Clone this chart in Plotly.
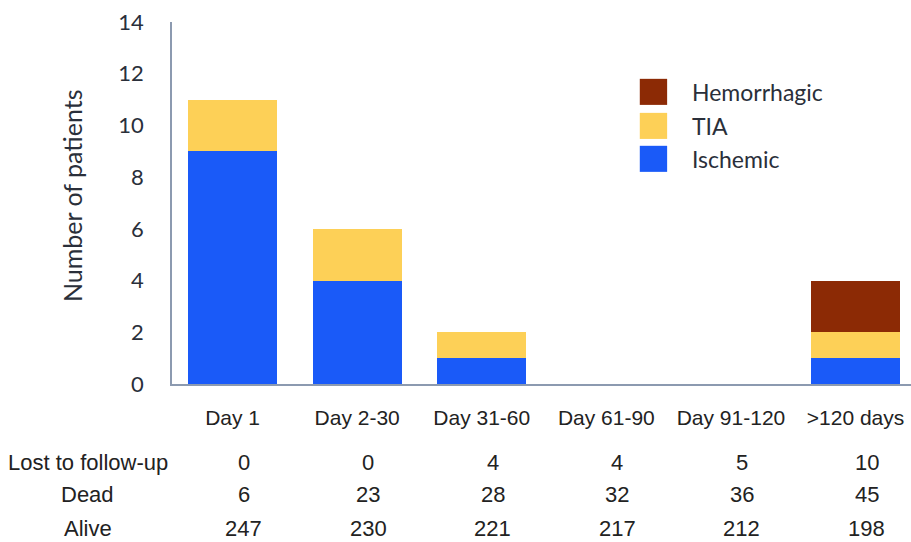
import plotly.graph_objects as go

categories = ["Day 1", "Day 2-30", "Day 31-60", "Day 61-90", "Day 91-120", ">120 days"]
ischemic = [9, 4, 1, 0, 0, 1]
tia = [2, 2, 1, 0, 0, 1]
hemorrhagic = [0, 0, 0, 0, 0, 2]

row_labels = ["Lost to follow-up", "Dead", "Alive"]
lost = [0, 0, 4, 4, 5, 10]
dead = [6, 23, 28, 32, 36, 45]
alive = [247, 230, 221, 217, 212, 198]

y_ticks = [0, 2, 4, 6, 8, 10, 12, 14]

series = [("Ischemic", ischemic, "#1a5af8"),
          ("TIA", tia, "#fdd057"),
          ("Hemorrhagic", hemorrhagic, "#8c2a05")]

LABEL_FONT = "Lato, Open Sans, sans-serif"
TABLE_FONT = "Liberation Sans, Arial, sans-serif"
TXT = "#2a2f3a"

xs = list(range(len(categories)))
fig = go.Figure()
for name, vals, col in series:
    fig.add_trace(go.Bar(x=xs, y=vals, name=name, marker=dict(color=col, line=dict(width=0)),
                         width=0.714, showlegend=False))

fig.update_layout(
    barmode="stack",
    width=911, height=542,
    margin=dict(l=172, r=0, t=22, b=158, autoexpand=False),
    plot_bgcolor="white", paper_bgcolor="white",
    xaxis=dict(range=[-0.486, 5.445], tickvals=xs, ticktext=categories, automargin=False,
               showline=True, linecolor="#8c9ab0", linewidth=1.5, showgrid=False,
               zeroline=False, ticks="", ticklabelstandoff=14,
               tickfont=dict(family=TABLE_FONT, size=21, color="#222")),
    yaxis=dict(range=[0, 14], tickvals=y_ticks, showline=True, linecolor="#8c9ab0",
               linewidth=1.5, showgrid=False, zeroline=False, ticks="", automargin=False,
               ticklabelstandoff=22,
               tickfont=dict(family=LABEL_FONT, size=22, color=TXT)),
)

# y-axis title
fig.add_annotation(text="Number of patients", xref="paper", yref="paper", x=0, y=0.519,
                   xshift=-100, xanchor="center", yanchor="middle", textangle=-90,
                   showarrow=False, font=dict(family=LABEL_FONT, size=25, color=TXT))

# table rows
row_y = [-0.2155, -0.3066, -0.3978]
for lab, vals, ry in zip(row_labels, [lost, dead, alive], row_y):
    fig.add_annotation(text=lab, xref="paper", yref="paper", x=-0.114, y=ry,
                       xanchor="center", yanchor="middle",
                       showarrow=False, font=dict(family=TABLE_FONT, size=22, color="#222"))
    for xi, v in zip(xs, vals):
        fig.add_annotation(text=str(v), xref="x", yref="paper", x=xi, y=ry, xshift=11,
                           xanchor="center", yanchor="middle",
                           showarrow=False, font=dict(family=TABLE_FONT, size=22, color="#222"))

# custom legend (top to bottom: Hemorrhagic, TIA, Ischemic)
leg_y = [0.807, 0.713, 0.622]
for (name, vals, col), ly in zip(reversed(series), leg_y):
    fig.add_shape(type="rect", xref="paper", yref="paper", x0=0.633, x1=0.670,
                  y0=ly - 0.036, y1=ly + 0.036, fillcolor=col, line=dict(width=0))
    fig.add_annotation(text=name, xref="paper", yref="paper", x=0.701, y=ly,
                       xanchor="left", yanchor="middle", showarrow=False,
                       font=dict(family=LABEL_FONT, size=23, color=TXT))

fig.write_html("out.html", config={"displayModeBar": False},
               post_script="document.body.style.margin='0';document.body.style.overflow='hidden';")
